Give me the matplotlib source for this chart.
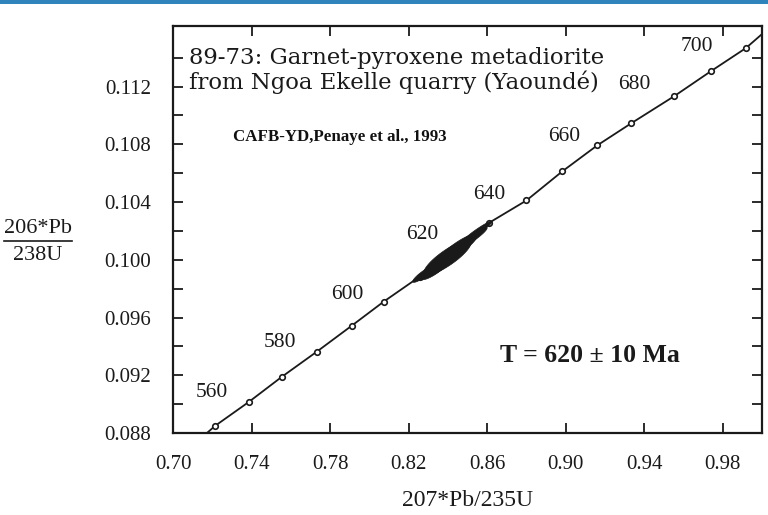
import numpy as np
import matplotlib
matplotlib.use("Agg")
import matplotlib.pyplot as plt
from matplotlib.lines import Line2D
from matplotlib.patches import Rectangle

# concordia tick marks (age in Ma, 207Pb/235U, 206Pb/238U)
ages = [550, 560, 570, 580, 590, 600, 610, 620, 630, 640, 650, 660, 670, 680, 690, 700]
conc_x = [0.7214, 0.7386, 0.7554, 0.7732, 0.7910, 0.8073, 0.8256, 0.8434,
          0.8612, 0.8800, 0.8983, 0.9161, 0.9334, 0.9552, 0.9740, 0.9918]
conc_y = [0.08849, 0.09015, 0.09189, 0.09363, 0.09543, 0.09710, 0.09883, 0.10071,
          0.10258, 0.10411, 0.10613, 0.10793, 0.10946, 0.11133, 0.11307, 0.11467]
# where the curve leaves the frame
line_start = (0.7173, 0.0880)
line_end = (1.0000, 0.11564)

labelled_ages = [560, 580, 600, 620, 640, 660, 680, 700]

# zircon analyses (x, 2s x, y, 2s y, rho)
ell_x = [0.8281, 0.8332, 0.8357, 0.8398, 0.8449, 0.8510, 0.8551]
ell_sx = [0.0060, 0.0070, 0.0090, 0.0120, 0.0100, 0.0090, 0.0075]
ell_y = [0.09904, 0.09932, 0.09967, 0.10015, 0.10078, 0.10140, 0.10196]
ell_sy = [0.00060, 0.00070, 0.00090, 0.00120, 0.00100, 0.00085, 0.00072]
ell_rho = [0.90, 0.85, 0.85, 0.85, 0.88, 0.94, 0.96]

x_ticks = [0.70, 0.74, 0.78, 0.82, 0.86, 0.90, 0.94, 0.98]
y_ticks = [0.088, 0.092, 0.096, 0.100, 0.104, 0.108, 0.112]
y_minor = [0.090, 0.094, 0.098, 0.102, 0.106, 0.110, 0.114]

serif = ["Liberation Serif", "DejaVu Serif"]
plt.rcParams["font.family"] = serif

fig = plt.figure(figsize=(7.68, 5.15), dpi=100)
fig.add_artist(Rectangle((0, 1 - 4 / 515), 1, 4 / 515, transform=fig.transFigure,
                         color="#2f85bb", lw=0))

ax = fig.add_axes([173 / 768, 82 / 515, 589 / 768, 407 / 515])

lx = [line_start[0]] + conc_x + [line_end[0]]
ly = [line_start[1]] + conc_y + [line_end[1]]
ax.plot(lx, ly, color="#1a1a1a", lw=1.3, zorder=2)
ax.plot(conc_x, conc_y, "o", ms=4, mfc="white", mec="#1a1a1a", mew=1.2, zorder=3)

# error ellipses
t = np.linspace(0, 2 * np.pi, 100)
for x0, sx, y0, sy, r in zip(ell_x, ell_sx, ell_y, ell_sy, ell_rho):
    cov = np.array([[sx * sx, r * sx * sy], [r * sx * sy, sy * sy]])
    w, v = np.linalg.eigh(cov)
    pts = v @ np.diag(np.sqrt(w)) @ np.vstack([np.cos(t), np.sin(t)])
    ax.fill(x0 + pts[0], y0 + pts[1], color="#1a1a1a", lw=0.5, zorder=4)

offsets = {560: (-37, 9), 580: (-37, 9), 600: (-36, 7), 620: (-32, 15),
           640: (-37, 6), 660: (-33, 9), 680: (-40, 12), 700: (-49, 2)}
for a in labelled_ages:
    i = ages.index(a)
    ax.annotate(str(a), (conc_x[i], conc_y[i]), xytext=offsets[a],
                textcoords="offset pixels", ha="center", va="center",
                fontsize=15.5, color="#1a1a1a")

ax.set_xlim(0.70, 1.0)
ax.set_ylim(0.088, 0.1162)
ax.set_xticks(x_ticks)
ax.set_xticklabels(["%.2f" % v for v in x_ticks])
ax.set_yticks(y_ticks)
ax.set_yticklabels(["%.3f" % v for v in y_ticks])
ax.set_yticks(y_minor, minor=True)
ax.tick_params(which="both", direction="in", length=7, width=1.3, top=True, right=True,
               labelsize=15, pad=16, colors="#1a1a1a")
for s in ax.spines.values():
    s.set_linewidth(1.6)
    s.set_color("#1a1a1a")

ax.text(0.028, 0.891, "89-73: Garnet-pyroxene metadiorite\nfrom Ngoa Ekelle quarry (Yaoundé)",
        transform=ax.transAxes, ha="left", va="center", fontsize=16.4,
        family="DejaVu Serif", linespacing=1.1, color="#1a1a1a")
ax.text(0.283, 0.727, "CAFB-YD,Penaye et al., 1993", transform=ax.transAxes,
        ha="center", va="center", fontsize=12.2, fontweight="bold", color="#111111")
ax.text(0.708, 0.191, "T = 620 ± 10 Ma", transform=ax.transAxes, ha="center",
        va="center", fontsize=18.5, fontweight="bold", color="#1a1a1a")

fig.text(468 / 768, 1 - 500 / 515, "207*Pb/235U", ha="center", va="center",
         fontsize=17, color="#1a1a1a")
fig.text(38 / 768, 1 - 229 / 515, "206*Pb", ha="center", va="center",
         fontsize=16, color="#1a1a1a")
fig.text(38 / 768, 1 - 256 / 515, "238U", ha="center", va="center",
         fontsize=16, color="#1a1a1a")
fig.add_artist(Line2D([4 / 768, 72 / 768], [1 - 241 / 515, 1 - 241 / 515],
                      transform=fig.transFigure, color="#1a1a1a", lw=1.2))

fig.savefig("out.png", dpi=100)
